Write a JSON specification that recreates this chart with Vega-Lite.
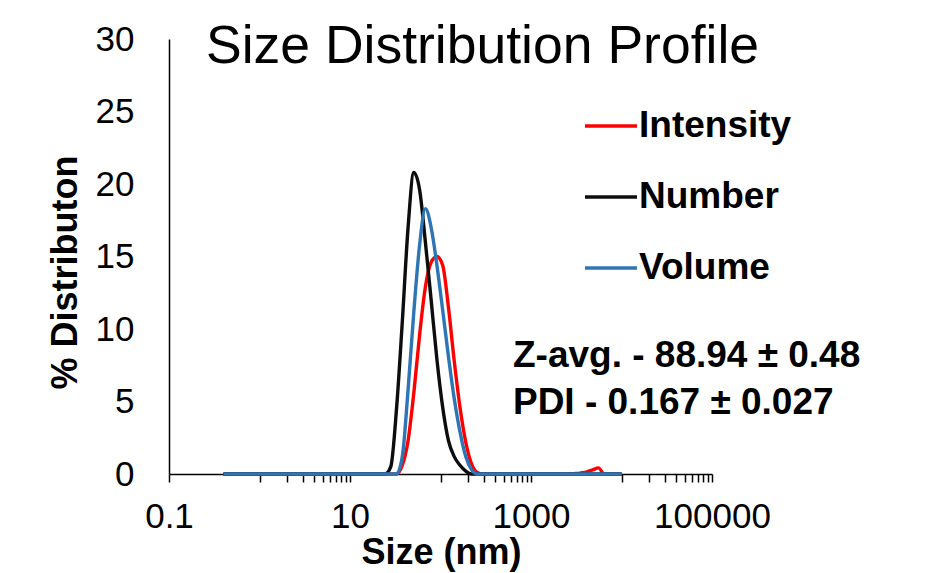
{
  "$schema": "https://vega.github.io/schema/vega-lite/v6.json",
  "width": 543,
  "height": 435,
  "autosize": "none",
  "padding": {"left": 169, "top": 39, "right": 215, "bottom": 99},
  "background": "white",
  "config": {"view": {"stroke": null}, "font": "Liberation Sans"},
  "title": {
    "text": "Size Distribution Profile",
    "fontSize": 53.5,
    "fontWeight": "normal",
    "font": "Liberation Sans",
    "color": "#000000",
    "anchor": "middle",
    "frame": "group",
    "baseline": "alphabetic",
    "offset": -94,
    "dx": 42
  },
  "layer": [
    {
      "data": {
        "values": [
          {"series": "Intensity", "size": 0.4, "pct": 0},
          {"series": "Intensity", "size": 32.67, "pct": 0},
          {"series": "Intensity", "size": 37.84, "pct": 0.6},
          {"series": "Intensity", "size": 43.82, "pct": 2.3},
          {"series": "Intensity", "size": 50.75, "pct": 5.6},
          {"series": "Intensity", "size": 58.77, "pct": 9.6},
          {"series": "Intensity", "size": 68.06, "pct": 12.9},
          {"series": "Intensity", "size": 78.82, "pct": 14.6},
          {"series": "Intensity", "size": 91.28, "pct": 15.0},
          {"series": "Intensity", "size": 105.7, "pct": 14.4},
          {"series": "Intensity", "size": 122.4, "pct": 11.5},
          {"series": "Intensity", "size": 141.8, "pct": 7.8},
          {"series": "Intensity", "size": 164.2, "pct": 4.6},
          {"series": "Intensity", "size": 190.1, "pct": 2.2},
          {"series": "Intensity", "size": 220.2, "pct": 0.7},
          {"series": "Intensity", "size": 255.0, "pct": 0.1},
          {"series": "Intensity", "size": 295.3, "pct": 0},
          {"series": "Intensity", "size": 2669, "pct": 0},
          {"series": "Intensity", "size": 3091, "pct": 0.03},
          {"series": "Intensity", "size": 3580, "pct": 0.08},
          {"series": "Intensity", "size": 4145, "pct": 0.15},
          {"series": "Intensity", "size": 4801, "pct": 0.28},
          {"series": "Intensity", "size": 5560, "pct": 0.42},
          {"series": "Intensity", "size": 6439, "pct": 0},
          {"series": "Intensity", "size": 10000, "pct": 0},
          {"series": "Number", "size": 0.4, "pct": 0},
          {"series": "Number", "size": 24.36, "pct": 0},
          {"series": "Number", "size": 28.21, "pct": 0.5},
          {"series": "Number", "size": 32.67, "pct": 4.5},
          {"series": "Number", "size": 37.84, "pct": 10.5},
          {"series": "Number", "size": 43.82, "pct": 17.0},
          {"series": "Number", "size": 50.75, "pct": 20.8},
          {"series": "Number", "size": 58.77, "pct": 19.6},
          {"series": "Number", "size": 68.06, "pct": 16.0},
          {"series": "Number", "size": 78.82, "pct": 12.0},
          {"series": "Number", "size": 91.28, "pct": 7.9},
          {"series": "Number", "size": 105.7, "pct": 4.6},
          {"series": "Number", "size": 122.4, "pct": 2.3},
          {"series": "Number", "size": 141.8, "pct": 1.2},
          {"series": "Number", "size": 164.2, "pct": 0.6},
          {"series": "Number", "size": 190.1, "pct": 0.2},
          {"series": "Number", "size": 220.2, "pct": 0},
          {"series": "Number", "size": 10000, "pct": 0},
          {"series": "Volume", "size": 0.4, "pct": 0},
          {"series": "Volume", "size": 32.67, "pct": 0},
          {"series": "Volume", "size": 37.84, "pct": 1.2},
          {"series": "Volume", "size": 43.82, "pct": 5.8},
          {"series": "Volume", "size": 50.75, "pct": 11.2},
          {"series": "Volume", "size": 58.77, "pct": 15.8},
          {"series": "Volume", "size": 68.06, "pct": 18.3},
          {"series": "Volume", "size": 78.82, "pct": 17.0},
          {"series": "Volume", "size": 91.28, "pct": 14.4},
          {"series": "Volume", "size": 105.7, "pct": 11.3},
          {"series": "Volume", "size": 122.4, "pct": 8.1},
          {"series": "Volume", "size": 141.8, "pct": 5.2},
          {"series": "Volume", "size": 164.2, "pct": 2.9},
          {"series": "Volume", "size": 190.1, "pct": 1.2},
          {"series": "Volume", "size": 220.2, "pct": 0.3},
          {"series": "Volume", "size": 255.0, "pct": 0},
          {"series": "Volume", "size": 10000, "pct": 0}
        ]
      },
      "mark": {"type": "line", "interpolate": "monotone", "strokeWidth": 3.4},
      "encoding": {
        "x": {
          "field": "size",
          "type": "quantitative",
          "scale": {"type": "log", "domain": [0.1, 100000], "nice": false},
          "axis": {
            "values": [0.1, 1, 2, 3, 4, 5, 6, 7, 8, 9, 10, 100, 200, 300, 400, 500, 600, 700, 800, 900, 1000, 10000, 20000, 30000, 40000, 50000, 60000, 70000, 80000, 90000, 100000],
            "labelExpr": "datum.value == 0.1 ? '0.1' : datum.value == 10 ? '10' : datum.value == 1000 ? '1000' : datum.value == 100000 ? '100000' : ''",
            "labelOverlap": false,
            "labelFlush": false,
            "labelBound": false,
            "labelFontSize": 35,
            "labelColor": "#000000",
            "labelFont": "Liberation Sans",
            "labelPadding": 17,
            "ticks": true,
            "tickSize": 8,
            "tickColor": "#000000",
            "tickWidth": 1.5,
            "domainColor": "#000000",
            "domainWidth": 1.5,
            "grid": false,
            "title": "Size (nm)",
            "titleFont": "Liberation Sans",
            "titleFontSize": 36,
            "titleFontWeight": "bold",
            "titleColor": "#000000",
            "titleBaseline": "alphabetic",
            "titleAlign": "center",
            "titleX": 272,
            "titleY": 89
          }
        },
        "y": {
          "field": "pct",
          "type": "quantitative",
          "scale": {"domain": [0, 30], "nice": false},
          "axis": {
            "values": [0, 5, 10, 15, 20, 25, 30],
            "ticks": false,
            "labelPadding": 35,
            "labelFontSize": 35,
            "labelColor": "#000000",
            "labelFont": "Liberation Sans",
            "domainColor": "#000000",
            "domainWidth": 1.5,
            "grid": false,
            "title": "% Distributon",
            "titleFont": "Liberation Sans",
            "titleFontSize": 36,
            "titleFontWeight": "bold",
            "titleColor": "#000000",
            "titleAngle": -90,
            "titleBaseline": "middle",
            "titleAlign": "center",
            "titleX": -104,
            "titleY": 233
          }
        },
        "color": {
          "field": "series",
          "type": "nominal",
          "scale": {"domain": ["Intensity", "Number", "Volume"], "range": ["#FF0000", "#0D0D0D", "#2E75B6"]},
          "legend": {
            "title": null,
            "orient": "none",
            "legendX": 414,
            "legendY": 59,
            "symbolType": "stroke",
            "symbolSize": 2704,
            "symbolStrokeWidth": 3.5,
            "labelFontSize": 37,
            "labelFontWeight": "bold",
            "labelFont": "Liberation Sans",
            "labelColor": "#000000",
            "labelOffset": 0,
            "labelLimit": 300,
            "rowPadding": 25
          }
        }
      }
    },
    {
      "data": {"values": [{}]},
      "mark": {
        "type": "text",
        "align": "left",
        "baseline": "alphabetic",
        "fontSize": 37,
        "fontWeight": "bold",
        "font": "Liberation Sans",
        "color": "#000000",
        "lineHeight": 47
      },
      "encoding": {
        "x": {"datum": 632},
        "y": {"datum": 7.4},
        "text": {"value": ["Z-avg. - 88.94 ± 0.48", "PDI - 0.167 ± 0.027"]}
      }
    }
  ]
}
